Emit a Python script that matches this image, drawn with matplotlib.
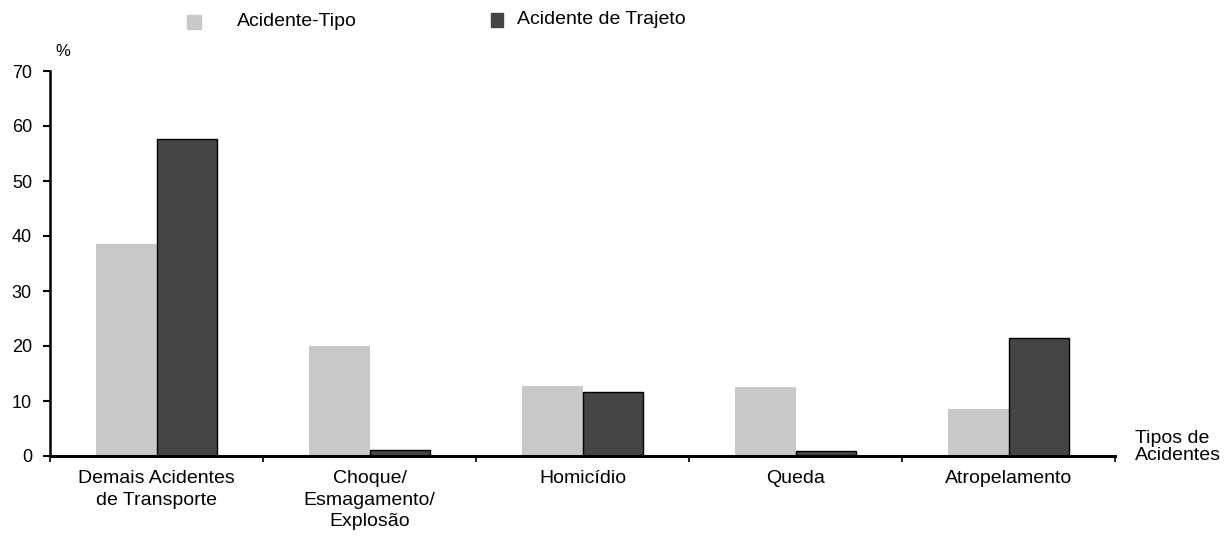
import matplotlib.pyplot as plt
import numpy as np

plt.rcParams['font.family'] = ['Liberation Sans', 'DejaVu Sans']

# categories and values (%)
categorias = ['Demais Acidentes\nde Transporte', 'Choque/\nEsmagamento/\nExplosão',
              'Homicídio', 'Queda', 'Atropelamento']
acidente_tipo = [38.5, 20.0, 12.8, 12.6, 8.5]
acidente_trajeto = [57.7, 1.1, 11.6, 0.9, 21.4]

cor_tipo = '#c8c8c8'
cor_trajeto = '#454545'

fig = plt.figure(figsize=(12.27, 5.48), dpi=100)
ax = fig.add_axes([50 / 1227, 1 - 456 / 548, 1065 / 1227, 385 / 548])

x = np.arange(len(categorias))
w = 0.286
ax.bar(x - w / 2, acidente_tipo, w, color=cor_tipo, label='Acidente-Tipo')
ax.bar(x + w / 2, acidente_trajeto, w, color=cor_trajeto, edgecolor='black',
       linewidth=1, label='Acidente de Trajeto')

ax.set_xlim(-0.5, len(categorias) - 0.5)
ax.set_ylim(0, 70)
ax.set_yticks(range(0, 71, 10))
ax.set_xticks(np.arange(-0.5, len(categorias), 1.0))
ax.set_xticklabels([])
ax.tick_params(axis='y', length=5, width=1.5, labelsize=13, pad=8, colors='black')
ax.tick_params(axis='x', length=4, width=1.2)
for i, c in enumerate(categorias):
    ax.text(i, -2.6, c, ha='center', va='top', fontsize=14, linespacing=1.35)

for s in ['top', 'right']:
    ax.spines[s].set_visible(False)
ax.spines['left'].set_linewidth(1.8)
ax.spines['bottom'].set_linewidth(2.2)

ax.text(0.005, 1.03, '%', transform=ax.transAxes, fontsize=12, ha='left', va='bottom')
fig.text(1135 / 1227, 1 - 447 / 548, 'Tipos de\nAcidentes', fontsize=14,
         ha='left', va='center', linespacing=1.0)

# legend entries
fig.patches.append(plt.Rectangle((187 / 1227, 1 - 29 / 548), 14 / 1227, 14 / 548,
                                 color=cor_tipo, transform=fig.transFigure, figure=fig))
fig.text(237 / 1227, 1 - 22 / 548, 'Acidente-Tipo', fontsize=14, va='center')
fig.patches.append(plt.Rectangle((491 / 1227, 1 - 27 / 548), 12 / 1227, 14 / 548,
                                 color=cor_trajeto, transform=fig.transFigure, figure=fig))
fig.text(517 / 1227, 1 - 20 / 548, 'Acidente de Trajeto', fontsize=14, va='center')

fig.savefig('out.png', dpi=100)
